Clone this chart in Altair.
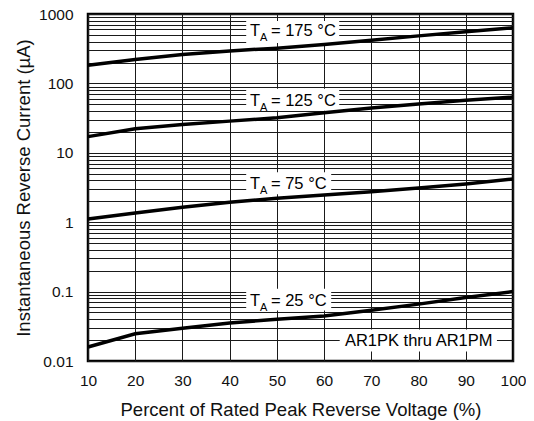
import altair as alt
import pandas as pd

# ---- data ----
pct = [10, 20, 30, 40, 50, 60, 70, 80, 90, 100]
i_175 = [183, 221, 260, 294, 322, 364, 420, 484, 553, 632]
i_125 = [17.1, 22.2, 25.6, 28.6, 32.0, 37.9, 44.1, 50.3, 57.0, 63.6]
i_75 = [1.11, 1.36, 1.64, 1.94, 2.22, 2.47, 2.75, 3.11, 3.56, 4.2]
i_25 = [0.0159, 0.0247, 0.0296, 0.0353, 0.040, 0.0445, 0.0538, 0.066, 0.082, 0.1]
series_names = ["175", "125", "75", "25"]

x_ticks = [10, 20, 30, 40, 50, 60, 70, 80, 90, 100]
y_decades = [0.01, 0.1, 1, 10, 100, 1000]
y_decade_labels = ["0.01", "0.1", "1", "10", "100", "1000"]
minor_mult = [1, 2, 3, 4, 5, 6, 7, 8, 9]

# curve labels (T_A = ... °C), anchored in data units
lab_x = [44.3, 44.3, 44.3, 44.3]
lab_y = [482, 47.4, 2.98, 0.0629]
lab_rest = ["= 175 °C", "= 125 °C", "= 75 °C", "= 25 °C"]
box_x1 = [43.5, 43.5, 43.5, 43.5]
box_x2 = [63.2, 63.2, 61.5, 61.5]
box_y1 = [383, 40.2, 2.53, 0.0533]
box_y2 = [793, 83.4, 5.24, 0.110]

part_text = ["AR1PK thru AR1PM"]
part_x = [64.4]
part_y = [0.0162]
part_box_x1 = [63.3]
part_box_x2 = [96.6]
part_box_y1 = [0.0137]
part_box_y2 = [0.0284]

# ---- tables ----
rows = []
for name, vals in zip(series_names, [i_175, i_125, i_75, i_25]):
    for xv, yv in zip(pct, vals):
        rows.append({"x": xv, "y": yv, "s": name})
curves = pd.DataFrame(rows)

labels = pd.DataFrame({"x": lab_x, "y": lab_y, "rest": lab_rest})
boxes = pd.DataFrame({
    "x": box_x1 + part_box_x1, "x2": box_x2 + part_box_x2,
    "y": box_y1 + part_box_y1, "y2": box_y2 + part_box_y2,
})
part = pd.DataFrame({"x": part_x, "y": part_y, "t": part_text})

y_grid = sorted({round(m * d, 6) for d in y_decades[:-1] for m in minor_mult} | {y_decades[-1]})
label_expr = "".join(
    f"datum.value == {v} ? '{t}' : " for v, t in zip(y_decades, y_decade_labels)
) + "''"

FONT = "Liberation Sans, Arial, Helvetica, sans-serif"

xscale = alt.Scale(domain=[10, 100], nice=False, zero=False)
yscale = alt.Scale(type="log", domain=[0.01, 1000], nice=False)

xaxis = alt.Axis(
    values=x_ticks, title="Percent of Rated Peak Reverse Voltage (%)",
    grid=True, ticks=False, domain=False, labelFlush=False,
    labelPadding=12, titlePadding=12,
)
yaxis = alt.Axis(
    values=y_grid, labelExpr=label_expr, title="Instantaneous Reverse Current (µA)",
    grid=True, ticks=False, domain=False, labelOverlap=False, labelFlush=False,
    labelPadding=15, titlePadding=5,
)

base_x = alt.X("x:Q", scale=xscale, axis=xaxis)
base_y = alt.Y("y:Q", scale=yscale, axis=yaxis)

rect_layer = alt.Chart(boxes).mark_rect(fill="white").encode(
    x=alt.X("x:Q", scale=xscale, axis=xaxis), x2="x2:Q",
    y=alt.Y("y:Q", scale=yscale, axis=yaxis), y2="y2:Q",
)

line_layer = alt.Chart(curves).mark_line(color="black", strokeWidth=3.5).encode(
    x=base_x, y=base_y, detail="s:N",
)

t_layer = alt.Chart(labels).mark_text(
    text="T", align="left", baseline="alphabetic", fontSize=16.5, font=FONT, color="black"
).encode(x="x:Q", y="y:Q")
a_layer = alt.Chart(labels).mark_text(
    text="A", align="left", baseline="alphabetic", fontSize=11, font=FONT, color="black",
    dx=10, dy=5,
).encode(x="x:Q", y="y:Q")
rest_layer = alt.Chart(labels).mark_text(
    align="left", baseline="alphabetic", fontSize=16.5, font=FONT, color="black", dx=21
).encode(x="x:Q", y="y:Q", text="rest:N")
part_layer = alt.Chart(part).mark_text(
    align="left", baseline="alphabetic", fontSize=16.5, font=FONT, color="black"
).encode(x="x:Q", y="y:Q", text="t:N")

chart = alt.layer(
    rect_layer, line_layer, t_layer, a_layer, rest_layer, part_layer
).properties(
    width=425, height=347,
    autosize=alt.AutoSizeParams(type="none"),
    padding={"left": 80, "top": 6, "right": 13, "bottom": 60},
).configure_view(
    stroke="black", strokeWidth=2.5
).configure_axis(
    gridColor="#1a1a1a", gridWidth=1, gridOpacity=1,
    labelFont=FONT, titleFont=FONT, labelFontSize=15.5, titleFontSize=18.5,
    labelColor="#111", titleColor="#111", titleFontWeight="normal",
)

chart.save("out.html", embed_options={"renderer": "svg", "actions": False})
